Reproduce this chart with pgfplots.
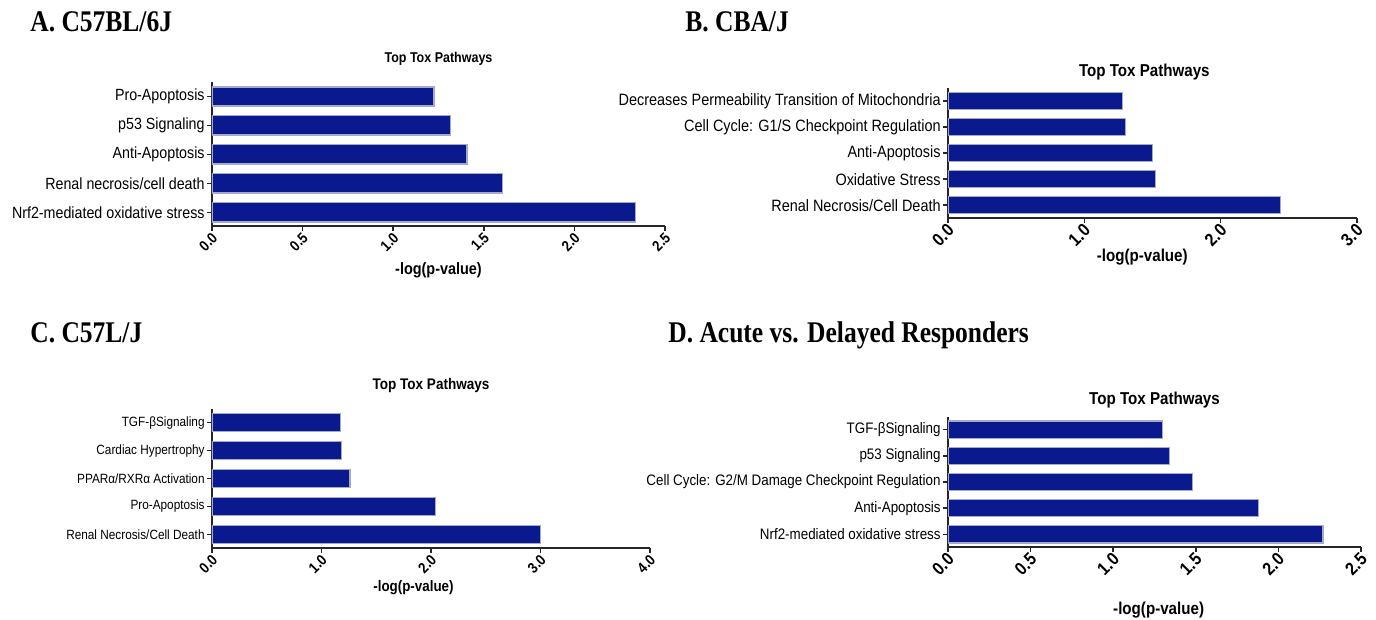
\documentclass[border=0pt]{standalone}
\usepackage{fontspec}
\setmainfont[FakeStretch=0.88]{Liberation Sans}
\newfontfamily\headfont[FakeStretch=0.85]{Liberation Serif}
\usepackage{pgfplots}
\pgfplotsset{compat=1.18}
\definecolor{barblue}{RGB}{10,26,142}
\definecolor{baredge}{RGB}{165,170,200}
\newcommand{\fs}[1]{\fontsize{#1}{#1}\selectfont}
\pgfplotsset{
  toxbar/.style={
    xbar, scale only axis, anchor=south west,
    axis lines*=left,
    axis line style={line width=1pt, color=black!85},
    tick align=outside, major tick length=2.5pt,
    tick style={line width=0.8pt, color=black!85},
    xmin=0, ytick={0,...,4}, bar width=0.66,
    /pgf/number format/.cd, fixed, fixed zerofill, precision=1, assume math mode=true, /pgfplots/.cd,
    xticklabel style={rotate=45, anchor=east, inner sep=1pt, yshift=-2.5pt, xshift=0.6pt},
    yticklabel style={inner sep=1pt},
    title style={anchor=center},
    xlabel style={anchor=center},
  },
  barstyle/.style={fill=barblue, draw=baredge, line width=0.6pt},
}
\begin{document}
\begin{tikzpicture}
\useasboundingbox (0,0) rectangle (688pt,310pt);

% Headings
\node[anchor=base west, inner sep=0pt, font=\headfont\bfseries\fs{15}] at (15pt,294pt) {A. C57BL/6J};
\node[anchor=base west, inner sep=0pt, font=\headfont\bfseries\fs{15}] at (342.5pt,294pt) {B. CBA/J};
\node[anchor=base west, inner sep=0pt, font=\headfont\bfseries\fs{15}] at (15pt,138.5pt) {C. C57L/J};
\node[anchor=base west, inner sep=0pt, font=\headfont\bfseries\fs{15}] at (334pt,138.5pt) {D. Acute vs. Delayed Responders};

% Panel A
\begin{axis}[toxbar, at={(106pt,197pt)}, width=226.5pt, height=72pt,
  ymin=-0.47, ymax=4.5, xmax=2.5, xtick={0,0.5,1,1.5,2,2.5},
  yticklabels={Nrf2-mediated oxidative stress, Renal necrosis/cell death, Anti-Apoptosis, p53 Signaling, Pro-Apoptosis},
  yticklabel style={font=\fs{8.1}},
  xticklabel style={font=\bfseries\fs{7.5}},
  title={Top Tox Pathways}, title style={at={(0.5,1)}, yshift=5.5pt, font=\bfseries\fs{7.1}},
  xlabel={-log(p-value)}, xlabel style={at={(0.5,0)}, yshift=-22pt, font=\bfseries\fs{8.2}}]
\addplot[barstyle] coordinates {(2.335,0) (1.605,1) (1.407,2) (1.318,3) (1.225,4)};
\end{axis}

% Panel B
\begin{axis}[toxbar, at={(474pt,201pt)}, width=204.5pt, height=65pt,
  ymin=-0.49, ymax=4.51, xmax=3, xtick={0,1,2,3},
  yticklabels={Renal Necrosis/Cell Death, Oxidative Stress, Anti-Apoptosis, {Cell Cycle: G1/S Checkpoint Regulation}, Decreases Permeability Transition of Mitochondria},
  yticklabel style={font=\fs{8.2}},
  xticklabel style={font=\bfseries\fs{9}},
  title={Top Tox Pathways}, title style={at={(0.48,1)}, yshift=1.8pt, font=\bfseries\fs{8.6}},
  xlabel={-log(p-value)}, xlabel style={at={(0.475,0)}, yshift=-19.5pt, font=\bfseries\fs{8.6}}]
\addplot[barstyle] coordinates {(2.44,0) (1.52,1) (1.50,2) (1.30,3) (1.28,4)};
\end{axis}

% Panel C
\begin{axis}[toxbar, at={(106pt,36pt)}, width=219pt, height=69.5pt,
  ymin=-0.49, ymax=4.49, xmax=4, xtick={0,1,2,3,4},
  yticklabels={Renal Necrosis/Cell Death, Pro-Apoptosis, PPARα/RXRα Activation, Cardiac Hypertrophy, TGF-βSignaling},
  yticklabel style={font=\fs{6.7}},
  xticklabel style={font=\bfseries\fs{7.5}},
  title={Top Tox Pathways}, title style={at={(0.5,1)}, yshift=5.5pt, font=\bfseries\fs{7.7}},
  xlabel={-log(p-value)}, xlabel style={at={(0.46,0)}, yshift=-20pt, font=\bfseries\fs{7.6}}]
\addplot[barstyle] coordinates {(3.00,0) (2.04,1) (1.26,2) (1.18,3) (1.17,4)};
\end{axis}

% Panel D
\begin{axis}[toxbar, at={(474pt,36.5pt)}, width=206.5pt, height=65pt,
  ymin=-0.48, ymax=4.48, xmax=2.5, xtick={0,0.5,1,1.5,2,2.5},
  yticklabels={Nrf2-mediated oxidative stress, Anti-Apoptosis, {Cell Cycle: G2/M Damage Checkpoint Regulation}, p53 Signaling, TGF-βSignaling},
  yticklabel style={font=\fs{7.6}},
  xticklabel style={font=\bfseries\fs{9}},
  title={Top Tox Pathways}, title style={at={(0.5,1)}, yshift=2.5pt, font=\bfseries\fs{8.6}},
  xlabel={-log(p-value)}, xlabel style={at={(0.51,0)}, yshift=-31.5pt, font=\bfseries\fs{8.6}}]
\addplot[barstyle] coordinates {(2.27,0) (1.88,1) (1.48,2) (1.34,3) (1.30,4)};
\end{axis}
\end{tikzpicture}
\end{document}
